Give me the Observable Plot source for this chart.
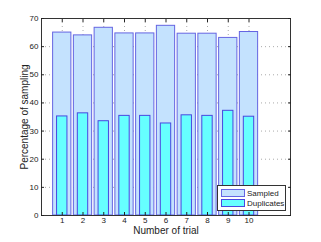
<!DOCTYPE html>
<html>
<head>
<meta charset="utf-8">
<script src="https://cdn.jsdelivr.net/npm/d3@7"></script>
<script src="https://cdn.jsdelivr.net/npm/@observablehq/plot@0.6"></script>
<style>
  html, body { margin: 0; padding: 0; background: #fff; }
  #chart svg { display: block; }
</style>
</head>
<body>
<div id="chart"></div>
<script>
const trials = [1, 2, 3, 4, 5, 6, 7, 8, 9, 10];
const sampled = [65.0, 64.0, 66.7, 64.7, 64.7, 67.4, 64.6, 64.6, 63.1, 65.2];
const duplicates = [35.2, 36.3, 33.5, 35.4, 35.4, 32.7, 35.6, 35.4, 37.2, 35.1];
const yTicks = [0, 10, 20, 30, 40, 50, 60, 70];
const seriesNames = ["Sampled", "Duplicates"];

const sampledData = trials.map((t, i) => ({trial: t, value: sampled[i]}));
const dupData = trials.map((t, i) => ({trial: t, value: duplicates[i]}));

const font = "'Liberation Sans', Arial, sans-serif";
const fillS = "#c4e2fe", strokeS = "#6565e2";
const fillD = "#66ffff", strokeD = "#4848e0";

const chart = Plot.plot({
  width: 321,
  height: 242,
  marginLeft: 41,
  marginRight: 31,
  marginTop: 18,
  marginBottom: 27,
  style: {fontFamily: font, fontSize: "8px", background: "#fff", color: "#222"},
  x: {type: "linear", domain: [0, 12]},
  y: {domain: [0, 70]},
  marks: [
    Plot.gridY(yTicks, {stroke: "#aaa", strokeOpacity: 1, strokeDasharray: "1,3"}),
    Plot.gridX(trials, {stroke: "#aaa", strokeOpacity: 1, strokeDasharray: "1,3"}),
    Plot.rectY(sampledData, {x1: d => d.trial - 0.44, x2: d => d.trial + 0.44, y1: 0, y2: "value", fill: fillS, stroke: strokeS, strokeWidth: 1}),
    Plot.rectY(dupData, {x1: d => d.trial - 0.25, x2: d => d.trial + 0.25, y1: 0, y2: "value", fill: fillD, stroke: strokeD, strokeWidth: 1}),
    Plot.frame({stroke: "#333", strokeWidth: 1}),
    Plot.axisY(yTicks, {anchor: "left", tickSize: -3, tickPadding: 6, label: "Percentage of sampling", labelAnchor: "center", labelArrow: "none", labelOffset: 21, fontSize: 8}),
    Plot.axisY(yTicks, {anchor: "right", tickSize: -3, tickFormat: () => "", label: null}),
    Plot.axisX(trials, {anchor: "bottom", tickSize: -3, tickPadding: 5, label: "Number of trial", labelAnchor: "center", labelArrow: "none", labelOffset: 18.5, fontSize: 8}),
    Plot.axisX(trials, {anchor: "top", tickSize: -3, tickFormat: () => "", label: null})
  ]
});

d3.select(chart).selectAll("g[aria-label='y-axis label'] text, g[aria-label='x-axis label'] text")
  .style("font-size", "10px");

const svg = d3.select(chart);
const lg = svg.append("g").attr("font-family", font).attr("font-size", "8px").attr("text-anchor", "start");
lg.append("rect").attr("x", 217.5).attr("y", 185.5).attr("width", 68).attr("height", 25)
  .attr("fill", "#fff").attr("stroke", "#333").attr("stroke-width", 1);
const fills = [fillS, fillD], strokes = [strokeS, strokeD];
seriesNames.forEach((name, i) => {
  lg.append("rect").attr("x", 221.5).attr("y", 189.5 + i * 10).attr("width", 23).attr("height", 7)
    .attr("fill", fills[i]).attr("stroke", strokes[i]);
  lg.append("text").attr("x", 247).attr("y", 193 + i * 10).attr("dy", "0.35em")
    .attr("text-anchor", "start").attr("fill", "#222").text(name);
});

document.getElementById("chart").appendChild(chart);
</script>
</body>
</html>
